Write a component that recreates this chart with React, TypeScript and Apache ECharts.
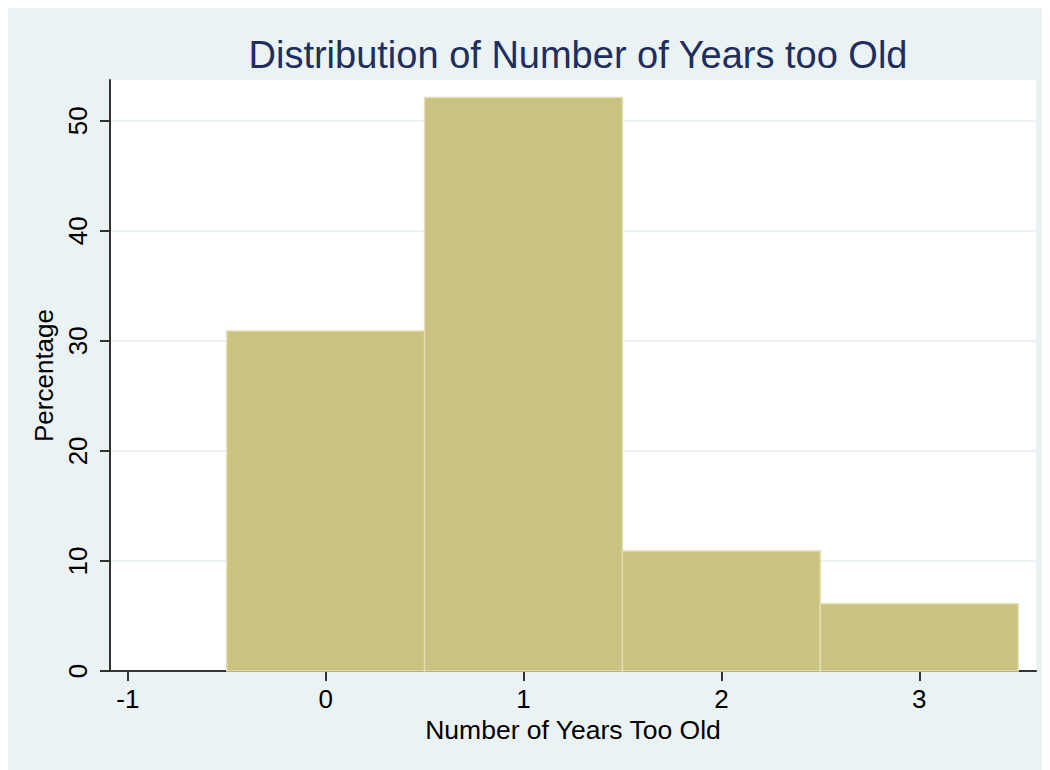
import React, { useEffect, useRef } from "react";
import * as echarts from "echarts";

const binStarts = [-0.5, 0.5, 1.5, 2.5];
const binEnds = [0.5, 1.5, 2.5, 3.5];
const percentages = [30.9, 52.1, 10.9, 6.1];
const xTicks = [-1, 0, 1, 2, 3];
const yTicks = [0, 10, 20, 30, 40, 50];

const FONT = "'Liberation Sans', Arial, sans-serif";

export default function App() {
  const ref = useRef<HTMLDivElement>(null);
  useEffect(() => {
    if (!ref.current) return;
    const chart = echarts.init(ref.current, null, { renderer: "svg" });
    const data = percentages.map((v, i) => [binStarts[i], binEnds[i], v]);
    chart.setOption({
      animation: false,
      backgroundColor: "#EAF2F3",
      textStyle: { fontFamily: FONT },
      title: {
        text: "Distribution of Number of Years too Old",
        left: 567,
        top: 24,
        textAlign: "center",
        textStyle: { color: "#1E2E5E", fontSize: 38, fontWeight: "normal", fontFamily: FONT },
      },
      grid: { left: 104, top: 73, right: 14, bottom: 99, backgroundColor: "#FFFFFF", show: true, borderWidth: 0 },
      xAxis: {
        type: "value",
        min: -1.09,
        max: 3.59,
        name: "Number of Years Too Old",
        nameLocation: "middle",
        nameGap: 43,
        nameTextStyle: { color: "#000", fontSize: 26.5, fontFamily: FONT },
        axisLine: { show: true, onZero: false, lineStyle: { color: "#333", width: 2 } },
        axisTick: { show: true, length: 10, customValues: xTicks, lineStyle: { color: "#333", width: 2 } },
        axisLabel: { customValues: xTicks, color: "#000", fontSize: 26, margin: 15, fontFamily: FONT },
        splitLine: { show: false },
      },
      yAxis: {
        type: "value",
        min: 0,
        max: 53.7,
        name: "Percentage",
        nameLocation: "middle",
        nameRotate: 90,
        nameGap: 46,
        nameTextStyle: { color: "#000", fontSize: 26, fontFamily: FONT },
        axisLine: { show: true, onZero: false, lineStyle: { color: "#333", width: 2 } },
        axisTick: { show: true, length: 10, customValues: yTicks, lineStyle: { color: "#333", width: 2 } },
        axisLabel: { customValues: yTicks, rotate: 90, color: "#000", fontSize: 26, margin: 19, fontFamily: FONT },
        splitLine: { show: true, lineStyle: { color: "#EAF2F3", width: 2 } },
      },
      series: [
        {
          type: "custom",
          data,
          encode: { x: [0, 1], y: 2 },
          renderItem: (params: any, api: any) => {
            const p0 = api.coord([api.value(0), api.value(2)]);
            const p1 = api.coord([api.value(1), 0]);
            return {
              type: "rect",
              shape: { x: p0[0], y: p0[1], width: p1[0] - p0[0], height: p1[1] - p0[1] },
              style: { fill: "#CAC280", stroke: "#E2DDB0", lineWidth: 1.5 },
            };
          },
          z: 3,
        },
      ],
    });
    return () => chart.dispose();
  }, []);
  return <div ref={ref} style={{ width: 1044, height: 763, marginLeft: -2, marginTop: -1 }} />;
}
